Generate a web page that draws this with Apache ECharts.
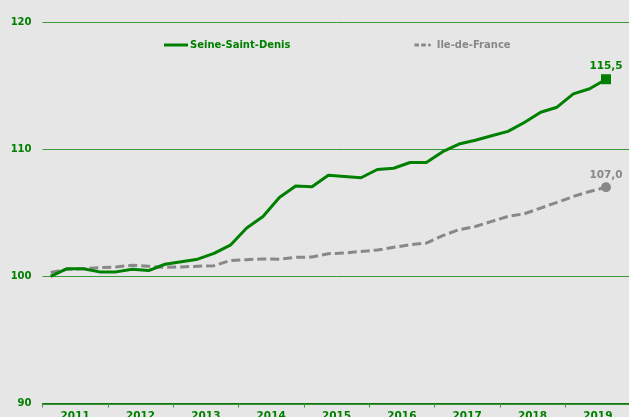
<!DOCTYPE html>
<html>
<head>
<meta charset="utf-8">
<script src="https://cdn.jsdelivr.net/npm/echarts@6/dist/echarts.min.js"></script>
<style>
  html, body { margin: 0; padding: 0; background: #e6e6e6; }
  #chart { width: 629px; height: 417px; }
</style>
</head>
<body>
<div id="chart"></div>
<script>
// années affichées sous l'axe
const years = ['2011', '2012', '2013', '2014', '2015', '2016', '2017', '2018', '2019'];
// trimestres (4 par année), le dernier n'a pas encore de valeur
const quarters = [];
years.forEach(y => { for (let q = 1; q <= 4; q++) quarters.push(y + ' T' + q); });

// indice base 100
const seineSaintDenis = [100.0, 100.6, 100.6, 100.35, 100.35, 100.55, 100.45, 100.95,
  101.15, 101.35, 101.8, 102.45, 103.8, 104.7, 106.2, 107.1,
  107.05, 107.95, 107.85, 107.75, 108.4, 108.5, 108.95, 108.95,
  109.8, 110.4, 110.7, 111.05, 111.4, 112.1, 112.9, 113.3,
  114.35, 114.75, 115.5];
const ileDeFrance = [100.3, 100.55, 100.6, 100.68, 100.74, 100.87, 100.79, 100.71,
  100.74, 100.79, 100.84, 101.25, 101.31, 101.37, 101.34, 101.49,
  101.52, 101.78, 101.84, 101.96, 102.07, 102.28, 102.49, 102.62,
  103.2, 103.67, 103.92, 104.32, 104.71, 104.92, 105.37, 105.81,
  106.28, 106.67, 107.0];
const yTicks = [90, 100, 110, 120];

const green = '#008000';
const grey = '#888888';
const font = 'DejaVu Sans';

// dernier point : marqueur + étiquette avec virgule décimale
function withEndLabel(arr, symbol, color) {
  return arr.map((v, i) => {
    if (i < arr.length - 1) return v;
    return {
      value: v,
      symbol: symbol,
      symbolSize: 10,
      itemStyle: { color: color },
      label: {
        show: true, position: 'top', distance: 2,
        formatter: v.toFixed(1).replace('.', ','),
        color: color, fontFamily: font, fontWeight: 'bold', fontSize: 10.5
      }
    };
  });
}

const chart = echarts.init(document.getElementById('chart'));
chart.setOption({
  backgroundColor: '#e6e6e6',
  animation: false,
  grid: { left: 42.5, top: 22, width: 588, bottom: 13.5, containLabel: false, outerBoundsMode: 'none' },
  legend: {
    left: 164, top: 40, padding: 0,
    itemWidth: 24, itemHeight: 3, itemGap: 124,
    textStyle: { fontFamily: font, fontWeight: 'bold', fontSize: 10, padding: [0, 0, 0, -3] },
    data: [
      { name: 'Seine-Saint-Denis', icon: 'rect', textStyle: { color: green } },
      {
        name: 'Ile-de-France',
        icon: 'path://M0,0H6V4H0Z M9,0H15V4H9Z M18,2A2,2,0,1,0,22,2A2,2,0,1,0,18,2Z',
        textStyle: { color: grey }
      }
    ]
  },
  xAxis: [
    {
      type: 'category', data: years, boundaryGap: true,
      axisLine: { lineStyle: { color: '#007000', width: 1.5 } },
      axisTick: { show: true, length: 4, lineStyle: { color: '#3a9a3a' } },
      axisLabel: { color: green, fontFamily: font, fontWeight: 'bold', fontSize: 10.5, margin: 7 },
      splitLine: { show: false }
    },
    { type: 'category', data: quarters, boundaryGap: true, show: false }
  ],
  yAxis: {
    type: 'value', min: yTicks[0], max: yTicks[yTicks.length - 1], interval: 10,
    axisLine: { show: false }, axisTick: { show: false },
    axisLabel: { color: green, fontFamily: font, fontWeight: 'bold', fontSize: 10, margin: 11 },
    splitLine: { lineStyle: { color: '#3a9a3a', width: 1 } }
  },
  series: [
    {
      name: 'Seine-Saint-Denis', type: 'line', xAxisIndex: 1,
      data: withEndLabel(seineSaintDenis, 'rect', green),
      symbol: 'none', smooth: false,
      lineStyle: { color: green, width: 3 },
      itemStyle: { color: green },
      z: 3
    },
    {
      name: 'Ile-de-France', type: 'line', xAxisIndex: 1,
      data: withEndLabel(ileDeFrance, 'circle', grey),
      symbol: 'none', smooth: false,
      lineStyle: { color: grey, width: 3, type: [9, 4] },
      itemStyle: { color: grey },
      z: 2
    }
  ]
});
window.addEventListener('resize', () => chart.resize());
</script>
</body>
</html>
